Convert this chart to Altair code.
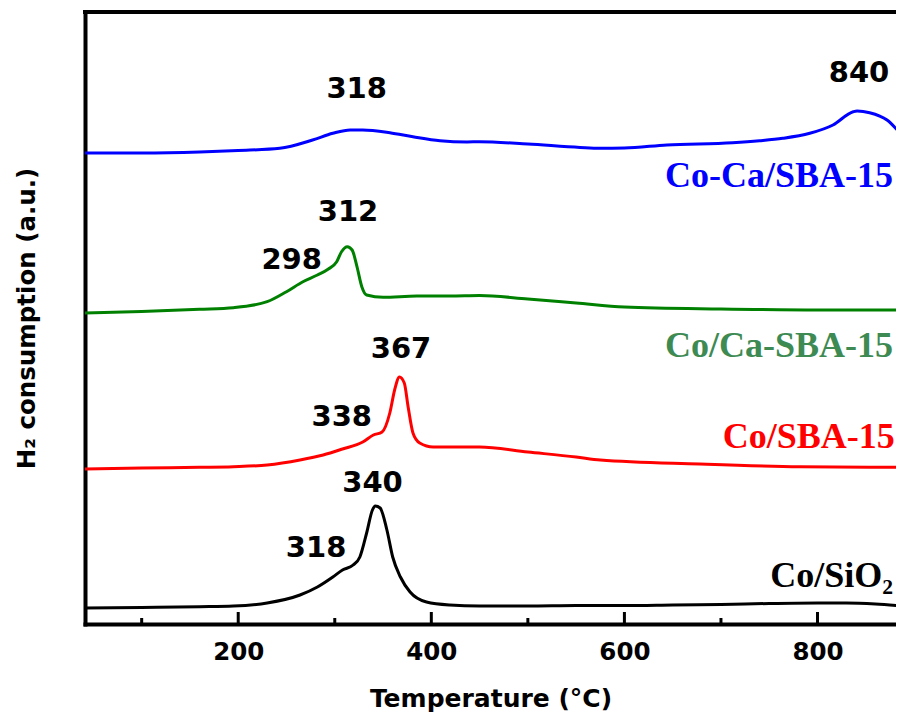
import altair as alt
import pandas as pd

# ---- data (temperature in °C, signal in a.u.) ----
series_names = ["Co/SiO2", "Co/SBA-15", "Co/Ca-SBA-15", "Co-Ca/SBA-15"]
series_colors = ["#000000", "#ff0000", "#008000", "#0000ff"]

t_black = [41, 100, 160, 195, 230, 264, 282, 298, 308, 319, 326, 333, 339, 342, 347, 354, 360, 368, 378, 395, 419, 450, 500, 550, 600, 650, 700, 750, 800, 830, 860, 888]
h_black = [16, 16.5, 17.3, 18, 21, 29, 37, 47, 54, 59, 67, 91, 114, 118, 116, 94, 67, 47, 32, 22, 19, 18, 18, 18.5, 18.5, 19, 19.5, 20.5, 21, 21, 20, 18]

t_red = [41, 100, 160, 195, 230, 264, 288, 308, 329, 340, 349, 357, 362, 367, 372, 376, 381, 388, 402, 419, 450, 500, 550, 575, 678, 782, 888]
h_red = [155, 156, 156.7, 157.3, 159, 164, 169, 175, 182, 189, 192, 211, 234, 247, 241, 217, 191, 181, 177, 177, 177, 172, 167, 164, 160, 157.3, 156.7]

t_green = [41, 100, 160, 195, 230, 250, 267, 282, 293, 302, 307, 313, 318, 323, 328, 333, 350, 385, 419, 450, 500, 550, 600, 700, 800, 888]
h_green = [311, 312.5, 314.7, 316.3, 322.3, 332.3, 342.3, 349, 354.7, 362.3, 372.3, 377.3, 374, 357.3, 337.3, 329, 326.7, 328, 328, 328.5, 325, 321, 317, 315, 314, 314]

t_blue = [41, 100, 160, 200, 243, 277, 298, 316, 329, 357, 381, 409, 437, 450, 500, 554, 575, 600, 644, 712, 740, 764, 792, 816, 837, 841, 854, 872, 888]
h_blue = [471, 471, 472, 473.5, 475.7, 484, 490.7, 494, 494, 491.3, 487.3, 483.3, 482, 482.3, 480, 476.5, 475.7, 476, 479, 481.3, 483.3, 485.7, 490.7, 499, 512.3, 513, 511.3, 504, 488]

peak_labels = ["318", "840", "312", "298", "367", "338", "340", "318"]
peak_t = [322.7, 843, 313.7, 255.4, 368.6, 307.2, 339.1, 280.6]
peak_h = [535, 551.5, 412, 364, 275, 207.5, 141, 76]

name_labels = ["Co-Ca/SBA-15", "Co/Ca-SBA-15", "Co/SBA-15", "Co/SiO₂"]
name_t = [878.2, 878.2, 880, 878.2]
name_h = [437, 267, 175.7, 37]
name_colors = ["#0000ff", "#3d8a52", "#ff0000", "#000000"]

major_ticks = [200, 400, 600, 800]
minor_ticks = [100, 300, 500, 700]

# ---- tables ----
frames = []
for name, ts, hs in zip(series_names, [t_black, t_red, t_green, t_blue], [h_black, h_red, h_green, h_blue]):
    frames.append(pd.DataFrame({"T": ts, "h": hs, "series": name}))
lines = pd.concat(frames, ignore_index=True)

peaks = pd.DataFrame({"T": peak_t, "h": peak_h, "label": peak_labels})
names = pd.DataFrame({"T": name_t, "h": name_h, "label": name_labels, "color": name_colors})
major_df = pd.DataFrame({"T": major_ticks})
minor_df = pd.DataFrame({"T": minor_ticks})

W, H = 811, 612
x_scale = alt.Scale(domain=[41.3, 881.3], nice=False, zero=False)
y_scale = alt.Scale(domain=[0, 612], nice=False, zero=False)

x_axis = alt.Axis(
    values=major_ticks, title="Temperature (°C)", format="d",
    ticks=False, tickSize=0, grid=False,
    domainWidth=4, domainColor="black", domainCap="square",
    labelFont="DejaVu Sans", labelFontWeight="bold", labelFontSize=24.5, labelColor="black",
    labelPadding=16,
    titleFont="DejaVu Sans", titleFontWeight="bold", titleFontSize=25, titleColor="black",
    titlePadding=23)
y_axis = alt.Axis(
    labels=False, ticks=False, tickSize=0, grid=False,
    domainWidth=4, domainColor="black", domainCap="square",
    title="H₂ consumption (a.u.)",
    titleFont="DejaVu Sans", titleFontWeight="bold", titleFontSize=24.5, titleColor="black",
    titlePadding=46)

X = alt.X("T:Q", scale=x_scale, axis=x_axis)
Y = alt.Y("h:Q", scale=y_scale, axis=y_axis)

line = alt.Chart(lines).mark_line(strokeWidth=3, interpolate="monotone", clip=True).encode(
    x=X, y=Y,
    color=alt.Color("series:N", scale=alt.Scale(domain=series_names, range=series_colors), legend=None),
)

major = alt.Chart(major_df).mark_rule(strokeWidth=3, color="black").encode(
    x=X, y=alt.value(612), y2=alt.value(600))
minor = alt.Chart(minor_df).mark_rule(strokeWidth=3, color="black").encode(
    x=X, y=alt.value(612), y2=alt.value(606))

top_border = alt.Chart(pd.DataFrame({"a": [0]})).mark_rule(strokeWidth=4, color="black", strokeCap="square").encode(
    x=alt.value(0), x2=alt.value(W), y=alt.value(0))

peak_text = alt.Chart(peaks).mark_text(font="DejaVu Sans", fontWeight="bold", fontSize=29,
                                       align="center", baseline="middle", color="black").encode(
    x=X, y=Y, text="label:N")

name_text = alt.Chart(names).mark_text(font="Liberation Serif", fontWeight="bold", fontSize=36,
                                       align="right", baseline="alphabetic").encode(
    x=X, y=Y, text="label:N", color=alt.Color("color:N", scale=None))

chart = alt.layer(line, major, minor, top_border, peak_text, name_text).properties(
    width=W, height=H,
    autosize=alt.AutoSizeParams(type="none"),
    padding={"left": 77, "top": 4, "right": 0, "bottom": 90},
).configure_view(stroke=None)

chart.save("out.html", embed_options={"renderer": "svg", "actions": False})
